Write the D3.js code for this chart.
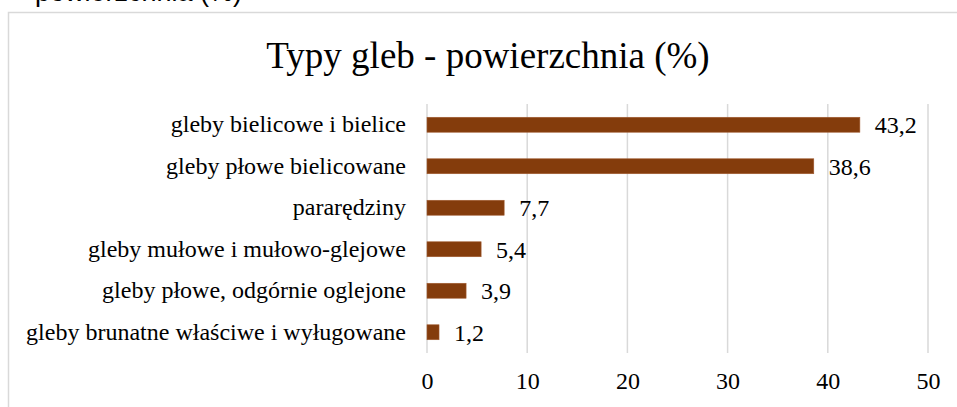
<!DOCTYPE html>
<html>
<head>
<meta charset="utf-8">
<script src="https://cdn.jsdelivr.net/npm/d3@7"></script>
<style>
  body { margin: 0; background: #fff; }
  svg { display: block; }
</style>
</head>
<body>
<svg id="chart" width="957" height="407"></svg>
<script>
// data
const categories = [
  "gleby bielicowe i bielice",
  "gleby płowe bielicowane",
  "pararędziny",
  "gleby mułowe i mułowo-glejowe",
  "gleby płowe, odgórnie oglejone",
  "gleby brunatne właściwe i wyługowane"
];
const values = [43.2, 38.6, 7.7, 5.4, 3.9, 1.2];
const xTicks = [0, 10, 20, 30, 40, 50];
const title = "Typy gleb - powierzchnia (%)";

const svg = d3.select("#chart");
const serif = "'Liberation Serif', 'Times New Roman', serif";

// cut-off text from the page above
svg.append("text")
  .attr("x", 35)
  .attr("y", 0.5)
  .attr("font-family", "'Liberation Sans', Arial, sans-serif")
  .attr("font-size", 27)
  .attr("fill", "#000")
  .text("powierzchnia (%)");

// chart frame
svg.append("rect")
  .attr("x", 8.5)
  .attr("y", 12.5)
  .attr("width", 960)
  .attr("height", 420)
  .attr("fill", "#fff")
  .attr("stroke", "#d9d9d9")
  .attr("stroke-width", 1.5);

// title
svg.append("text")
  .attr("x", 488)
  .attr("y", 68)
  .attr("text-anchor", "middle")
  .attr("font-family", serif)
  .attr("font-size", 37)
  .attr("fill", "#000")
  .text(title);

var margin = {top: 104, left: 427},
    width = 501,
    height = 249;

var g = svg.append("g")
  .attr("transform", "translate(" + margin.left + "," + margin.top + ")");

var x = d3.scaleLinear().domain([0, 50]).range([0, width]);
var y = d3.scaleBand().domain(categories).range([0, height]).paddingInner(0.64).paddingOuter(0.32);

// gridlines
g.append("g")
  .selectAll("line")
  .data(xTicks)
  .join("line")
  .attr("x1", d => x(d))
  .attr("x2", d => x(d))
  .attr("y1", 0)
  .attr("y2", height)
  .attr("stroke", "#d9d9d9")
  .attr("stroke-width", 1.5);

// x axis labels
var xAxis = g.append("g")
  .attr("transform", "translate(0," + height + ")")
  .call(d3.axisBottom(x).tickValues(xTicks).tickSize(0).tickPadding(19).tickFormat(d3.format("d")));
xAxis.select(".domain").remove();
xAxis.selectAll("text")
  .attr("font-family", serif)
  .attr("font-size", 24)
  .attr("fill", "#000");

// y axis labels
var yAxis = g.append("g")
  .call(d3.axisLeft(y).tickSize(0).tickPadding(21));
yAxis.select(".domain").remove();
yAxis.selectAll("text")
  .attr("font-family", serif)
  .attr("font-size", 24)
  .attr("fill", "#000");

// bars
g.selectAll(".bar")
  .data(values)
  .join("rect")
  .attr("class", "bar")
  .attr("x", x(0))
  .attr("y", (d, i) => y(categories[i]))
  .attr("width", d => x(d) - x(0))
  .attr("height", y.bandwidth())
  .attr("fill", "#843c0c")
  .attr("stroke", "#a05a30")
  .attr("stroke-width", 0.6);

// value labels
g.selectAll(".val")
  .data(values)
  .join("text")
  .attr("class", "val")
  .attr("x", d => x(d) + 15)
  .attr("y", (d, i) => y(categories[i]) + y.bandwidth() / 2)
  .attr("dy", "0.35em")
  .attr("font-family", serif)
  .attr("font-size", 24)
  .attr("fill", "#000")
  .text(d => d3.format(".1f")(d).replace(".", ","));
</script>
</body>
</html>
